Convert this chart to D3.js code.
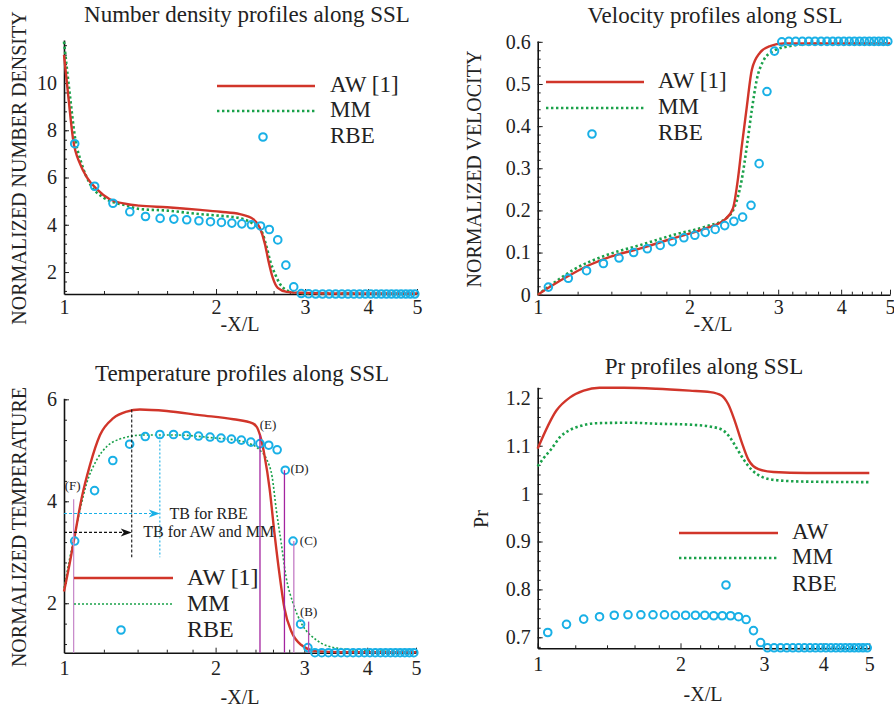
<!DOCTYPE html>
<html>
<head>
<meta charset="utf-8">
<script src="https://cdn.jsdelivr.net/npm/d3@7"></script>
<style>
  body { margin: 0; background: #fff; }
  text { font-family: "Liberation Serif", "Times New Roman", serif; fill: #222; }
</style>
</head>
<body>
<svg id="fig" width="894" height="711"></svg>
<script>
// ---- data ----
const xTicks = [1, 2, 3, 4, 5];
const rbeX = [1.05, 1.15, 1.25, 1.35, 1.45, 1.55, 1.65, 1.75, 1.85, 1.95,
              2.05, 2.15, 2.25, 2.35, 2.45, 2.55, 2.65, 2.75, 2.85, 2.95,
              3.05, 3.15, 3.25, 3.35, 3.45, 3.55, 3.65, 3.75, 3.85, 3.95,
              4.05, 4.15, 4.25, 4.35, 4.45, 4.55, 4.65, 4.75, 4.85, 4.95];

// number density
const densYTicks = [2, 4, 6, 8, 10];
const densRBE = [7.43, 5.63, 4.91, 4.55, 4.35, 4.27, 4.24, 4.21, 4.17, 4.13,
                 4.10, 4.07, 4.04, 4.00, 3.95, 3.80, 3.36, 2.29, 1.37, 1.09,
                 1.08, 1.07, 1.07, 1.07, 1.07, 1.07, 1.07, 1.07, 1.07, 1.07,
                 1.07, 1.07, 1.07, 1.07, 1.07, 1.07, 1.07, 1.07, 1.07, 1.07];
const densAWx = [1, 1.02, 1.043, 1.076, 1.11, 1.16, 1.23, 1.33, 1.41, 1.6, 1.86, 2.04, 2.23, 2.37, 2.44, 2.50, 2.54, 2.59, 2.65, 2.76, 2.93, 3.36, 5];
const densAW  = [11.19, 9.42, 7.57, 6.58, 6.01, 5.52, 5.09, 4.88, 4.81, 4.74, 4.63, 4.55, 4.45, 4.24, 3.89, 3.18, 2.47, 1.76, 1.33, 1.16, 1.12, 1.09, 1.09];
const densMMx = [1, 1.028, 1.051, 1.084, 1.126, 1.196, 1.33, 1.41, 1.6, 1.86, 2.04, 2.23, 2.37, 2.46, 2.52, 2.56, 2.62, 2.68, 2.76, 2.89, 3.12, 5];
const densMM  = [11.75, 9.42, 7.72, 6.58, 5.73, 5.16, 4.81, 4.67, 4.60, 4.45, 4.38, 4.28, 4.03, 3.74, 3.04, 2.47, 1.90, 1.48, 1.23, 1.12, 1.09, 1.08];

// velocity
const velYTicks = [0, 0.1, 0.2, 0.3, 0.4, 0.5, 0.6];
const velRBE = [0.018, 0.039, 0.057, 0.074, 0.087, 0.100, 0.109, 0.117, 0.126, 0.135,
                0.141, 0.148, 0.155, 0.164, 0.174, 0.184, 0.212, 0.311, 0.482, 0.578,
                0.600, 0.601, 0.601, 0.601, 0.601, 0.601, 0.601, 0.601, 0.601, 0.601,
                0.601, 0.601, 0.601, 0.601, 0.601, 0.601, 0.601, 0.601, 0.601, 0.601];
const velAWx = [1, 1.058, 1.177, 1.27, 1.37, 1.60, 1.86, 2.16, 2.35, 2.44, 2.50, 2.54, 2.60, 2.66, 2.76, 2.89, 3.07, 5];
const velAW  = [0, 0.019, 0.051, 0.071, 0.087, 0.110, 0.134, 0.158, 0.178, 0.205, 0.281, 0.352, 0.447, 0.534, 0.574, 0.590, 0.596, 0.596];
const velMMx = [1, 1.074, 1.177, 1.37, 1.60, 1.86, 2.16, 2.37, 2.46, 2.54, 2.60, 2.66, 2.72, 2.80, 2.93, 3.17, 3.4, 5];
const velMM  = [0, 0.027, 0.059, 0.094, 0.118, 0.142, 0.162, 0.182, 0.209, 0.273, 0.352, 0.439, 0.510, 0.554, 0.578, 0.590, 0.595, 0.596];

// temperature
const tempYTicks = [2, 4, 6];
const tempRBE = [3.22, 4.21, 4.80, 5.12, 5.27, 5.31, 5.31, 5.29, 5.28, 5.26,
                 5.24, 5.22, 5.20, 5.16, 5.13, 5.10, 5.01, 4.61, 3.22, 1.59,
                 1.13, 1.03, 1.03, 1.03, 1.03, 1.03, 1.03, 1.03, 1.03, 1.03,
                 1.03, 1.03, 1.03, 1.03, 1.03, 1.03, 1.03, 1.03, 1.03, 1.03];
const tempAWx = [1, 1.028, 1.051, 1.084, 1.126, 1.179, 1.253, 1.332, 1.415, 1.60, 1.86, 2.17, 2.37, 2.43, 2.47, 2.50, 2.56, 2.62, 2.68, 2.74, 2.83, 2.96, 3.17, 3.53, 5];
const tempAW  = [2.23, 2.82, 3.34, 4.06, 4.71, 5.30, 5.63, 5.76, 5.80, 5.77, 5.69, 5.61, 5.53, 5.40, 5.17, 4.91, 4.25, 3.34, 2.55, 1.90, 1.44, 1.18, 1.06, 1.04, 1.04];
const tempMMx = [1, 1.028, 1.051, 1.076, 1.109, 1.161, 1.215, 1.29, 1.44, 1.67, 1.95, 2.27, 2.45, 2.53, 2.59, 2.64, 2.70, 2.76, 2.85, 2.96, 3.17, 3.48, 4, 5];
const tempMM  = [2.30, 2.91, 3.37, 3.83, 4.35, 4.81, 5.07, 5.22, 5.30, 5.30, 5.25, 5.17, 5.00, 4.81, 4.48, 3.83, 3.18, 2.52, 2.00, 1.61, 1.28, 1.12, 1.07, 1.05];
// marked stations along the temperature profile
const stationLabels = ["(F)", "(E)", "(D)", "(C)", "(B)"];
const stationX      = [1.045, 2.45, 2.74, 2.86, 3.06];
const stationTop    = [4.04, 5.30, 4.61, 3.22, 1.64];
const stationColor  = ["#c98ccb", "#a3249f", "#a3249f", "#c47dc6", "#b14cb2"];
// thickness markers (TB)
const tbLabels = ["TB for RBE", "TB for AW and MM"];
const tbX      = [1.55, 1.363];
const tbLevel  = [3.76, 3.39];
const tbTop    = [5.27, 5.80];
const tbBottom = 2.90;

// Prandtl number
const prYTicks = [0.7, 0.8, 0.9, 1, 1.1, 1.2];
const prRBE = [0.710, 0.727, 0.738, 0.743, 0.746, 0.747, 0.747, 0.747, 0.747, 0.746,
               0.746, 0.746, 0.746, 0.745, 0.745, 0.745, 0.743, 0.737, 0.714, 0.689,
               0.678, 0.678, 0.678, 0.678, 0.678, 0.678, 0.678, 0.678, 0.678, 0.678,
               0.678, 0.678, 0.678, 0.678, 0.678, 0.678, 0.678, 0.678, 0.678, 0.678];
const prAWx = [1, 1.096, 1.17, 1.25, 1.35, 1.52, 1.78, 2.09, 2.31, 2.44, 2.52, 2.60, 2.69, 2.78, 2.92, 3.14, 3.69, 5];
const prAW  = [1.094, 1.174, 1.201, 1.215, 1.221, 1.221, 1.219, 1.215, 1.212, 1.205, 1.187, 1.153, 1.108, 1.071, 1.051, 1.045, 1.043, 1.043];
const prMMx = [1, 1.027, 1.07, 1.114, 1.17, 1.228, 1.33, 1.565, 1.78, 2.09, 2.34, 2.46, 2.54, 2.63, 2.71, 2.83, 2.97, 3.19, 3.69, 5];
const prMM  = [1.057, 1.073, 1.094, 1.118, 1.133, 1.141, 1.147, 1.148, 1.146, 1.144, 1.139, 1.132, 1.118, 1.094, 1.073, 1.049, 1.035, 1.028, 1.025, 1.024];

const RED = "#d1352a", GREEN = "#1aa14a", CYAN = "#19b0e6";
const SERIF = '"Liberation Serif", "Times New Roman", serif';

const svg = d3.select("#fig");
const xMinor = d3.range(10, 50, 2).map(d => d / 10).filter(d => d % 1 !== 0);

function drawPanel(cfg) {
  const g = svg.append("g");
  const x = d3.scaleLog().domain([1, 5]).range([cfg.left, cfg.right]);
  const y = d3.scaleLinear().domain(cfg.yDomain).range([cfg.bottom, cfg.top]);

  // minor ticks (inward)
  g.append("g")
    .attr("transform", `translate(0,${cfg.bottom})`)
    .call(d3.axisBottom(x).tickValues(xMinor).tickSize(-3).tickFormat(""))
    .call(a => a.select(".domain").remove());
  const yMinor = d3.range(Math.ceil(cfg.yDomain[0] / cfg.minor - 1e-6), Math.floor(cfg.yDomain[1] / cfg.minor + 1e-6) + 1)
    .map(k => +(k * cfg.minor).toFixed(4));
  g.append("g")
    .attr("transform", `translate(${cfg.left},0)`)
    .call(d3.axisLeft(y).tickValues(yMinor).tickSize(-3).tickFormat(""))
    .call(a => a.select(".domain").remove());

  // main axes
  g.append("g")
    .attr("transform", `translate(0,${cfg.bottom})`)
    .call(d3.axisBottom(x).tickValues(xTicks).tickFormat(d3.format("d"))
      .tickSizeInner(-5).tickSizeOuter(0).tickPadding(cfg.xPad));
  g.append("g")
    .attr("transform", `translate(${cfg.left},0)`)
    .call(d3.axisLeft(y).tickValues(cfg.yTicks).tickFormat(d => String(d))
      .tickSizeInner(-5).tickSizeOuter(0).tickPadding(7));
  g.selectAll("g").attr("font-family", SERIF);
  g.selectAll(".tick text").style("font-size", "20px").style("font-family", SERIF).attr("fill", "#222");
  g.selectAll(".tick line").attr("stroke", "#222");
  g.selectAll(".domain").attr("stroke", "#111").attr("stroke-width", 1.6);

  // series
  const line = d3.line().x(d => x(d[0])).y(d => y(d[1])).curve(d3.curveMonotoneX);
  g.append("path")
    .attr("d", line(d3.zip(cfg.mmX, cfg.mm)))
    .attr("fill", "none").attr("stroke", GREEN)
    .attr("stroke-width", cfg.mmWidth).attr("stroke-dasharray", cfg.mmDash);
  g.append("path")
    .attr("d", line(d3.zip(cfg.awX, cfg.aw)))
    .attr("fill", "none").attr("stroke", RED).attr("stroke-width", 2.4);
  g.append("g").selectAll("circle")
    .data(d3.zip(rbeX, cfg.rbe))
    .join("circle")
    .attr("cx", d => x(d[0])).attr("cy", d => y(d[1]))
    .attr("r", 3.8).attr("fill", "none")
    .attr("stroke", CYAN).attr("stroke-width", 2);

  if (cfg.extra) cfg.extra(g, x, y);

  // titles and axis labels
  g.append("text").attr("x", cfg.titleX).attr("y", cfg.titleY)
    .attr("text-anchor", "middle").style("font-size", "23px").text(cfg.title);
  g.append("text").attr("x", cfg.xLabelX).attr("y", cfg.xLabelY)
    .attr("text-anchor", "middle").style("font-size", "20px").text("-X/L");
  g.append("text")
    .attr("transform", `translate(${cfg.yLabelX},${cfg.yLabelY}) rotate(-90)`)
    .attr("text-anchor", "middle").style("font-size", "20px").text(cfg.yLabel);

  // legend
  const L = cfg.legend;
  const lg = g.append("g");
  lg.append("line").attr("x1", L.x1).attr("x2", L.x2).attr("y1", L.rows[0]).attr("y2", L.rows[0])
    .attr("stroke", RED).attr("stroke-width", 2.4);
  lg.append("line").attr("x1", L.x1).attr("x2", L.x2).attr("y1", L.rows[1]).attr("y2", L.rows[1])
    .attr("stroke", GREEN).attr("stroke-width", cfg.mmWidth).attr("stroke-dasharray", cfg.mmDash);
  lg.append("circle").attr("cx", L.markerX).attr("cy", L.rows[2]).attr("r", 3.8)
    .attr("fill", "none").attr("stroke", CYAN).attr("stroke-width", 2);
  L.labels.forEach((t, i) => {
    lg.append("text")
      .attr("x", L.textX).attr("y", L.rows[i] + L.dy)
      .style("font-size", L.size + "px").text(t);
  });
}

drawPanel({
  left: 64, right: 417, top: 40, bottom: 294,
  yDomain: [1.07, 11.82], yTicks: densYTicks, minor: 0.4, xPad: 6,
  awX: densAWx, aw: densAW, mmX: densMMx, mm: densMM, rbe: densRBE,
  mmWidth: 2.6, mmDash: "2.4,2.6",
  title: "Number density profiles along SSL", titleX: 247, titleY: 22,
  xLabelX: 240, xLabelY: 331,
  yLabel: "NORMALIZED NUMBER DENSITY", yLabelX: 26, yLabelY: 168,
  legend: { x1: 217, x2: 315, textX: 330, markerX: 263, rows: [86, 111, 137], dy: 6, size: 23,
            labels: ["AW [1]", "MM", "RBE"] }
});

drawPanel({
  left: 537.7, right: 890, top: 41, bottom: 294.7,
  yDomain: [0, 0.602], yTicks: velYTicks, minor: 0.02, xPad: 5,
  awX: velAWx, aw: velAW, mmX: velMMx, mm: velMM, rbe: velRBE,
  mmWidth: 2.6, mmDash: "2.4,2.6",
  title: "Velocity profiles along SSL", titleX: 715, titleY: 23,
  xLabelX: 713, xLabelY: 331,
  yLabel: "NORMALIZED VELOCITY", yLabelX: 481, yLabelY: 169,
  legend: { x1: 546, x2: 644, textX: 658, markerX: 592, rows: [82, 108, 134], dy: 6, size: 23,
            labels: ["AW [1]", "MM", "RBE"] }
});

drawPanel({
  left: 64, right: 416, top: 398.3, bottom: 652.7,
  yDomain: [1.03, 6.02], yTicks: tempYTicks, minor: 0.4, xPad: 8,
  awX: tempAWx, aw: tempAW, mmX: tempMMx, mm: tempMM, rbe: tempRBE,
  mmWidth: 1.6, mmDash: "2,2",
  title: "Temperature profiles along SSL", titleX: 242, titleY: 381,
  xLabelX: 240, xLabelY: 704,
  yLabel: "NORMALIZED TEMPERATURE", yLabelX: 26, yLabelY: 527,
  legend: { x1: 74, x2: 173, textX: 187, markerX: 121, rows: [578, 604, 630], dy: 7, size: 24,
            labels: ["AW [1]", "MM", "RBE"] },
  extra: (g, x, y) => {
    // station lines
    stationX.forEach((sx, i) => {
      g.append("line").attr("x1", x(sx)).attr("x2", x(sx))
        .attr("y1", y(1.03)).attr("y2", y(stationTop[i]))
        .attr("stroke", stationColor[i]).attr("stroke-width", 1.3);
    });
    const lab = [[-1, -9, "middle"], [8, -6, "middle"], [6, 3, "start"], [6, 4, "start"], [0, -6, "middle"]];
    stationLabels.forEach((t, i) => {
      g.append("text").attr("x", x(stationX[i]) + lab[i][0]).attr("y", y(stationTop[i]) + lab[i][1])
        .attr("text-anchor", lab[i][2]).style("font-size", "13px").text(t);
    });
    // TB markers
    const cols = [CYAN, "#111"];
    tbX.forEach((tx, i) => {
      g.append("line").attr("x1", x(tx)).attr("x2", x(tx))
        .attr("y1", y(tbTop[i])).attr("y2", y(tbBottom))
        .attr("stroke", cols[i]).attr("stroke-width", 1.1).attr("stroke-dasharray", i === 0 ? "2,2" : "3,2");
      g.append("line").attr("x1", x(1)).attr("x2", x(tx) - 9)
        .attr("y1", y(tbLevel[i])).attr("y2", y(tbLevel[i]))
        .attr("stroke", cols[i]).attr("stroke-width", 1.1).attr("stroke-dasharray", "3,2");
      const ax = x(tx), ay = y(tbLevel[i]);
      g.append("path")
        .attr("d", `M${ax},${ay} L${ax - 11},${ay - 4} L${ax - 8},${ay} L${ax - 11},${ay + 4} Z`)
        .attr("fill", cols[i]);
    });
    g.append("text").attr("x", x(1.62)).attr("y", y(tbLevel[0]) + 5)
      .style("font-size", "16px").text(tbLabels[0]);
    g.append("text").attr("x", x(1.437)).attr("y", y(tbLevel[1]) + 5)
      .style("font-size", "16px").text(tbLabels[1]);
  }
});

drawPanel({
  left: 537.7, right: 869.3, top: 387.3, bottom: 648.3,
  yDomain: [0.677, 1.222], yTicks: prYTicks, minor: 0.02, xPad: 9,
  awX: prAWx, aw: prAW, mmX: prMMx, mm: prMM, rbe: prRBE,
  mmWidth: 2.6, mmDash: "2.4,2.6",
  title: "Pr profiles along SSL", titleX: 704, titleY: 374,
  xLabelX: 703, xLabelY: 701,
  yLabel: "Pr", yLabelX: 488, yLabelY: 519,
  legend: { x1: 679, x2: 778, textX: 792, markerX: 726, rows: [533, 558, 585], dy: 6, size: 23,
            labels: ["AW", "MM", "RBE"] }
});
</script>
</body>
</html>
